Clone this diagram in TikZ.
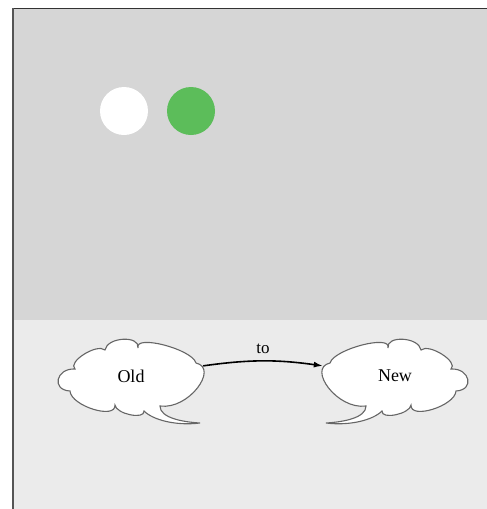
\documentclass[tikz,border=0pt]{standalone}
\usepackage{fontspec}
\setmainfont{Liberation Serif}
\usetikzlibrary{arrows.meta}
\definecolor{topgray}{HTML}{D6D6D6}
\definecolor{lowgray}{HTML}{EBEBEB}
\definecolor{dotgreen}{HTML}{5CBD5A}
\definecolor{edgegray}{HTML}{555555}
% outline of a cloud with its tail, around (0,0)
\newcommand{\bubblepath}{(-56,-7) .. controls (-75,-8) and (-80,14) .. (-61,15)
  .. controls (-60,30) and (-15,44) .. (-16,29)
  .. controls (-15,38) and (14,44) .. (13,35)
  .. controls (22,44) and (45,50) .. (69,47)
  .. controls (52,46) and (29,42) .. (29,30)
  .. controls (58,34) and (88,-8) .. (65,-13)
  .. controls (61,-27) and (3,-42) .. (7,-28)
  .. controls (9,-41) and (-24,-39) .. (-26,-26)
  .. controls (-34,-33) and (-64,-14) .. (-56,-7) -- cycle}
\begin{document}
\begin{tikzpicture}[x=1pt,y=-1pt]
\tikzstyle{dot}=[circle, inner sep=0pt, minimum size=48pt]
\tikzstyle{bubble}=[draw=black!60, fill=white, line width=1.1pt]
\tikzstyle{word}=[inner sep=0pt, minimum width=144pt, minimum height=72pt, font=\fontsize{18}{20}\selectfont]
\useasboundingbox (0,0) rectangle (487,509);
\fill[white] (0,0) rectangle (487,509);
\fill[topgray] (13,9) rectangle (487,320);
\fill[lowgray] (13,320) rectangle (487,509);
\draw[black!80, line width=1.5pt] (12,8.5) -- (487,8.5);
\draw[edgegray, line width=2pt] (12.5,8) -- (12.5,509);

\node[dot, fill=white] (offdot) at (124,111) {};
\node[dot, fill=dotgreen] (ondot) at (191,111) {};

\coordinate (oldspot) at (131,376);
\coordinate (newspot) at (395,376);
\draw[bubble, shift={(oldspot)}] \bubblepath;
\draw[bubble, shift={(newspot)}, xscale=-1] \bubblepath;
\node[word] (old) at (oldspot) {Old};
\node[word] (new) at (newspot) {New};

\draw[line width=1.6pt, -{Latex[length=9pt,width=6pt]}] (old.8) to[bend left=8]
	node[above=3pt, font=\fontsize{17}{20}\selectfont] {to} (new.172);
\end{tikzpicture}
\end{document}
